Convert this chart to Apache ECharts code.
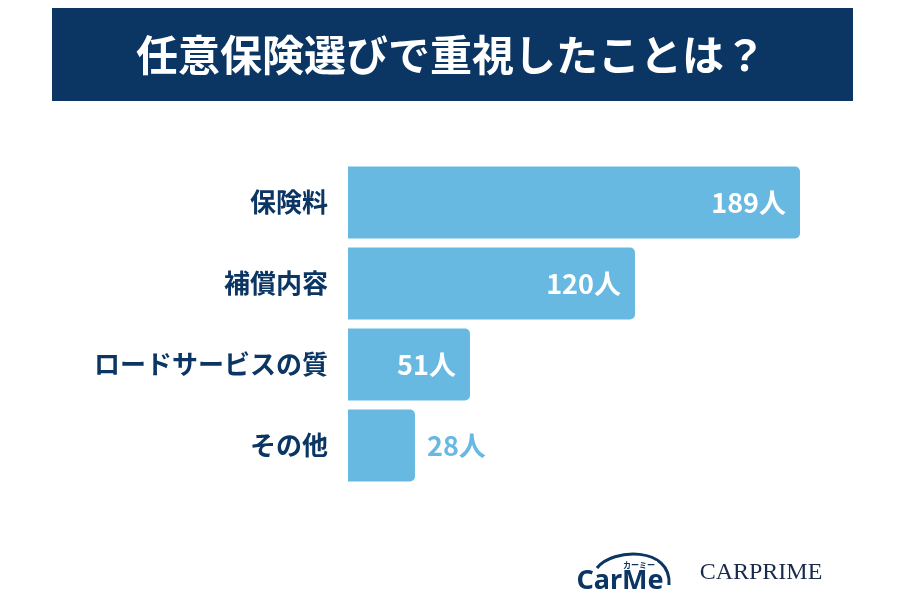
<!DOCTYPE html>
<html>
<head>
<meta charset="utf-8">
<script src="https://cdn.jsdelivr.net/npm/echarts@6/dist/echarts.min.js"></script>
<style>
  html, body { margin: 0; padding: 0; background: #fff; }
  #chart { width: 900px; height: 600px; }
</style>
</head>
<body>
<div id="chart"></div>
<script>
const titleText = '任意保険選びで重視したことは？';
const categories = ['保険料', '補償内容', 'ロードサービスの質', 'その他'];
const values = [189, 120, 51, 28];
const unit = '人';

const navy = '#0b3562';
const barColor = '#67b9e2';
const font = '"Noto Sans CJK JP", "Noto Sans", sans-serif';

const myChart = echarts.init(document.getElementById('chart'));

// small bars get their label outside
const seriesData = values.map(v => {
    if (v < 40) {
        return {
            value: v,
            label: { position: 'right', color: barColor, distance: 12 }
        };
    }
    return v;
});

const option = {
    backgroundColor: '#fff',
    animation: false,
    grid: {
        left: 348,
        right: 73.7,
        top: 162,
        bottom: 114
    },
    xAxis: {
        type: 'value',
        min: 0,
        max: 200,
        show: false
    },
    yAxis: {
        type: 'category',
        inverse: true,
        data: categories,
        axisLine: { show: false },
        axisTick: { show: false },
        axisLabel: {
            margin: 20,
            color: navy,
            fontSize: 26,
            fontWeight: 'bold',
            fontFamily: font
        }
    },
    series: [{
        type: 'bar',
        data: seriesData,
        barWidth: 72,
        itemStyle: {
            color: barColor,
            borderRadius: [0, 5, 5, 0]
        },
        label: {
            show: true,
            position: 'insideRight',
            distance: 14,
            color: '#fff',
            fontSize: 27,
            fontWeight: 'bold',
            fontFamily: font,
            formatter: p => p.value + unit
        }
    }],
    graphic: [
        {
            type: 'rect',
            shape: { x: 52, y: 8, width: 801, height: 93 },
            style: { fill: navy },
            z: 0
        },
        {
            type: 'text',
            x: 451,
            y: 55,
            style: {
                text: titleText,
                fill: '#fff',
                fontSize: 42,
                fontWeight: 'bold',
                fontFamily: font,
                align: 'center',
                verticalAlign: 'middle'
            },
            z: 1
        },
        // CarMe logo roof line
        {
            type: 'bezierCurve',
            shape: {
                x1: 597, y1: 568,
                cpx1: 612, cpy1: 548,
                cpx2: 672, cpy2: 546,
                x2: 669, y2: 585
            },
            style: { stroke: navy, lineWidth: 3, fill: null }
        },
        {
            type: 'text',
            x: 620,
            y: 581,
            style: {
                text: 'CarMe',
                fill: navy,
                fontSize: 27,
                fontWeight: 'bold',
                fontFamily: '"Noto Sans", sans-serif',
                align: 'center',
                verticalAlign: 'middle'
            }
        },
        {
            type: 'text',
            x: 639,
            y: 565,
            style: {
                text: 'カーミー',
                fill: navy,
                fontSize: 8,
                fontWeight: 'bold',
                fontFamily: font,
                align: 'center',
                verticalAlign: 'middle',
                backgroundColor: '#fff',
                padding: [0, 2]
            }
        },
        {
            type: 'text',
            x: 761,
            y: 573,
            style: {
                text: 'CARPRIME',
                fill: '#1a2a4a',
                fontSize: 24,
                fontFamily: '"Liberation Serif", "DejaVu Serif", serif',
                align: 'center',
                verticalAlign: 'middle'
            }
        }
    ]
};

myChart.setOption(option);
</script>
</body>
</html>
